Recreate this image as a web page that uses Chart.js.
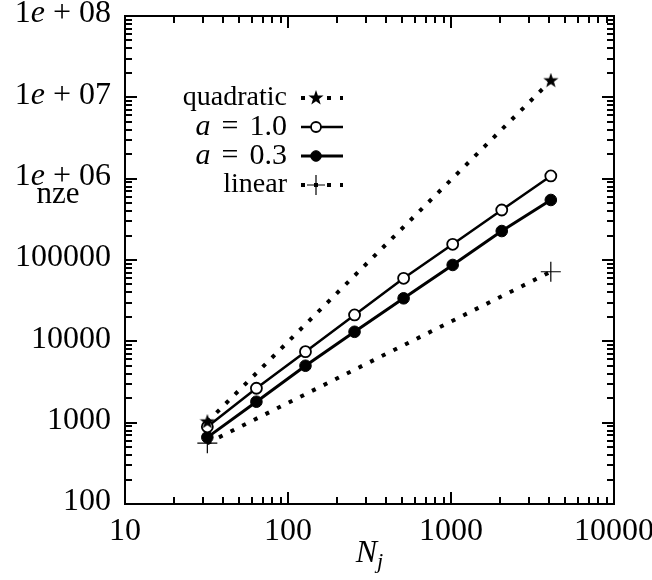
<!DOCTYPE html>
<html>
<head>
<meta charset="utf-8">
<script src="https://cdn.jsdelivr.net/npm/chart.js@4/dist/chart.umd.min.js"></script>
<style>
html,body{margin:0;padding:0;background:#fff;}
canvas{display:block;}
</style>
</head>
<body>
<canvas id="c" width="652" height="580"></canvas>
<script>
// ---- data ----
const nValues = [32, 64, 128, 256, 512, 1024, 2048, 4096];
const nzeA10 = [890, 2650, 7470, 21100, 59600, 156000, 412000, 1080000];
const nzeA03 = [660, 1810, 5010, 13100, 33800, 86900, 227000, 547000];
const refN = [32, 4096];
const quadraticRef = [1024, 16000000];
const linearRef = [560, 71700];
const seriesLabels = ['quadratic', 'a = 1.0', 'a = 0.3', 'linear'];
const xTickValues = [10, 100, 1000, 10000];
const xTickLabels = ['10', '100', '1000', '10000'];
const yTickValues = [100, 1000, 10000, 100000, 1000000, 10000000, 100000000];
const yTickLabels = ['100', '1000', '10000', '100000', '1e + 06', '1e + 07', '1e + 08'];
const xTitle = ['N', 'j'];
const yTitle = 'nze';

const SERIF = '"Liberation Serif", "DejaVu Serif", serif';

function makeStar(size) {
  const c = document.createElement('canvas');
  c.width = c.height = size;
  const g = c.getContext('2d');
  g.fillStyle = '#000';
  g.beginPath();
  for (let i = 0; i < 10; i++) {
    const r = i % 2 ? size * 0.2 : size * 0.5;
    const a = -Math.PI / 2 + i * Math.PI / 5;
    g.lineTo(size / 2 + r * Math.cos(a), size / 2 + r * Math.sin(a));
  }
  g.closePath();
  g.fill();
  return c;
}
const starImg = makeStar(16);

function pts(xs, ys) { return xs.map((x, i) => ({ x: x, y: ys[i] })); }

const datasets = [
  { label: seriesLabels[0], data: pts(refN, quadraticRef), borderColor: '#000', borderWidth: 4,
    borderDash: [4, 9], borderCapStyle: 'butt', pointStyle: starImg, pointRadius: 8, fill: false, tension: 0 },
  { label: seriesLabels[1], data: pts(nValues, nzeA10), borderColor: '#000', borderWidth: 2.5,
    pointStyle: 'circle', pointRadius: 5.5, pointBackgroundColor: '#fff', pointBorderColor: '#000', pointBorderWidth: 1.8, fill: false, tension: 0 },
  { label: seriesLabels[2], data: pts(nValues, nzeA03), borderColor: '#000', borderWidth: 3,
    pointStyle: 'circle', pointRadius: 5.8, pointBackgroundColor: '#000', pointBorderColor: '#000', pointBorderWidth: 1, fill: false, tension: 0 },
  { label: seriesLabels[3], data: pts(refN, linearRef), borderColor: '#000', borderWidth: 4,
    borderDash: [4, 9], borderCapStyle: 'butt', pointStyle: 'cross', pointRadius: 10, pointBorderWidth: 1.2, pointBorderColor: '#000', fill: false, tension: 0 }
];

function drawMarker(ctx, ds, x, y) {
  if (ds.pointStyle === starImg) {
    ctx.drawImage(starImg, x - 8, y - 8);
    return;
  }
  ctx.save();
  ctx.setLineDash([]);
  ctx.strokeStyle = '#000';
  if (ds.pointStyle === 'cross') {
    ctx.lineWidth = 1.2;
    ctx.beginPath();
    ctx.moveTo(x - 9, y); ctx.lineTo(x + 9, y);
    ctx.moveTo(x, y - 10); ctx.lineTo(x, y + 10);
    ctx.stroke();
  } else {
    ctx.lineWidth = ds.pointBorderWidth;
    ctx.fillStyle = ds.pointBackgroundColor;
    ctx.beginPath();
    ctx.arc(x, y, ds.pointRadius - 0.5, 0, Math.PI * 2);
    ctx.fill();
    ctx.stroke();
  }
  ctx.restore();
}

const framePlugin = {
  id: 'frame',
  afterDraw(chart) {
    const ctx = chart.ctx;
    const a = chart.chartArea;
    const xs = chart.scales.x, ys = chart.scales.y;
    ctx.save();
    ctx.strokeStyle = '#000';
    ctx.fillStyle = '#000';
    ctx.lineWidth = 2;
    ctx.setLineDash([]);
    ctx.strokeRect(a.left, a.top, a.right - a.left, a.bottom - a.top);

    // tick marks
    const MAJ = 12, MIN = 7;
    ctx.beginPath();
    for (let d = 10; d < 10000; d *= 10) {
      for (let m = 1; m <= 10; m++) {
        const v = d * m;
        const len = (m === 1 || m === 10) ? MAJ : MIN;
        const px = Math.round(xs.getPixelForValue(v));
        ctx.moveTo(px, a.bottom); ctx.lineTo(px, a.bottom - len);
        ctx.moveTo(px, a.top); ctx.lineTo(px, a.top + len);
      }
    }
    for (let d = 100; d < 1e8; d *= 10) {
      for (let m = 1; m <= 10; m++) {
        const v = d * m;
        const len = (m === 1 || m === 10) ? MAJ : MIN;
        const py = Math.round(ys.getPixelForValue(v));
        ctx.moveTo(a.left, py); ctx.lineTo(a.left + len, py);
        ctx.moveTo(a.right, py); ctx.lineTo(a.right - len, py);
      }
    }
    ctx.stroke();

    // x tick labels
    ctx.font = '32px ' + SERIF;
    ctx.textAlign = 'center';
    ctx.textBaseline = 'middle';
    xTickValues.forEach((v, i) => {
      ctx.fillText(xTickLabels[i], xs.getPixelForValue(v), a.bottom + 28);
    });

    // y tick labels (with italic e)
    const rx = a.left - 14;
    ctx.textAlign = 'left';
    yTickValues.forEach((v, i) => {
      const py = ys.getPixelForValue(v) - 2;
      const lab = yTickLabels[i];
      const k = lab.indexOf('e');
      let parts;
      if (k >= 0) {
        parts = [[lab.slice(0, k), '32px ' + SERIF], ['e', 'italic 32px ' + SERIF], [lab.slice(k + 1), '32px ' + SERIF]];
      } else {
        parts = [[lab, '32px ' + SERIF]];
      }
      let w = 0;
      parts.forEach(p => { ctx.font = p[1]; w += ctx.measureText(p[0]).width; });
      let x = rx - w;
      parts.forEach(p => { ctx.font = p[1]; ctx.fillText(p[0], x, py); x += ctx.measureText(p[0]).width; });
    });

    // y title
    ctx.font = '31px ' + SERIF;
    ctx.textAlign = 'center';
    ctx.textBaseline = 'alphabetic';
    ctx.fillText(yTitle, 58, 203);

    // x title N_j
    ctx.font = 'italic 32px ' + SERIF;
    ctx.textAlign = 'left';
    const nw = ctx.measureText(xTitle[0]).width;
    ctx.font = 'italic 22px ' + SERIF;
    const jw = ctx.measureText(xTitle[1]).width;
    const cx = (a.left + a.right) / 2;
    let tx = cx - (nw + jw) / 2;
    ctx.font = 'italic 32px ' + SERIF;
    ctx.fillText(xTitle[0], tx, 562);
    ctx.font = 'italic 22px ' + SERIF;
    ctx.fillText(xTitle[1], tx + nw, 568);

    // legend
    const rowsY = [98, 127, 156, 185];
    const textRight = 287, lineL = 301, lineR = 343, markX = 316;
    ctx.textBaseline = 'middle';
    chart.data.datasets.forEach((ds, i) => {
      const y = rowsY[i];
      const lab = ds.label;
      if (lab.startsWith('a')) {
        const m = lab.split(' = ');
        const gap = 11;
        ctx.font = '30px ' + SERIF;
        const vw = ctx.measureText(m[1]).width;
        const ew = ctx.measureText('=').width;
        ctx.font = 'italic 30px ' + SERIF;
        const aw = ctx.measureText(m[0]).width;
        ctx.textAlign = 'left';
        let x = textRight - vw - gap - ew - gap - aw;
        ctx.fillText(m[0], x, y);
        ctx.font = '30px ' + SERIF;
        x += aw + gap;
        ctx.fillText('=', x, y);
        x += ew + gap;
        ctx.fillText(m[1], x, y);
      } else {
        ctx.font = '28px ' + SERIF;
        ctx.textAlign = 'right';
        ctx.fillText(lab, textRight, y);
      }
      ctx.save();
      ctx.lineWidth = ds.borderWidth;
      ctx.lineCap = 'butt';
      ctx.setLineDash(ds.borderDash || []);
      ctx.beginPath();
      ctx.moveTo(lineL, y); ctx.lineTo(lineR, y);
      ctx.stroke();
      ctx.restore();
      drawMarker(ctx, ds, markX, y);
    });
    ctx.restore();
  }
};

new Chart(document.getElementById('c'), {
  type: 'line',
  data: { datasets: datasets },
  options: {
    responsive: false,
    animation: false,
    devicePixelRatio: 1,
    layout: { padding: { left: 0, right: 38, top: 16, bottom: 0 } },
    scales: {
      x: {
        type: 'logarithmic', min: 10, max: 10000,
        ticks: { display: false },
        grid: { display: false, drawTicks: false },
        border: { display: false },
        afterFit(s) { s.height = 76; }
      },
      y: {
        type: 'logarithmic', min: 100, max: 100000000,
        ticks: { display: false },
        grid: { display: false, drawTicks: false },
        border: { display: false },
        afterFit(s) { s.width = 125; }
      }
    },
    plugins: { legend: { display: false }, tooltip: { enabled: false } }
  },
  plugins: [framePlugin]
});
</script>
</body>
</html>
